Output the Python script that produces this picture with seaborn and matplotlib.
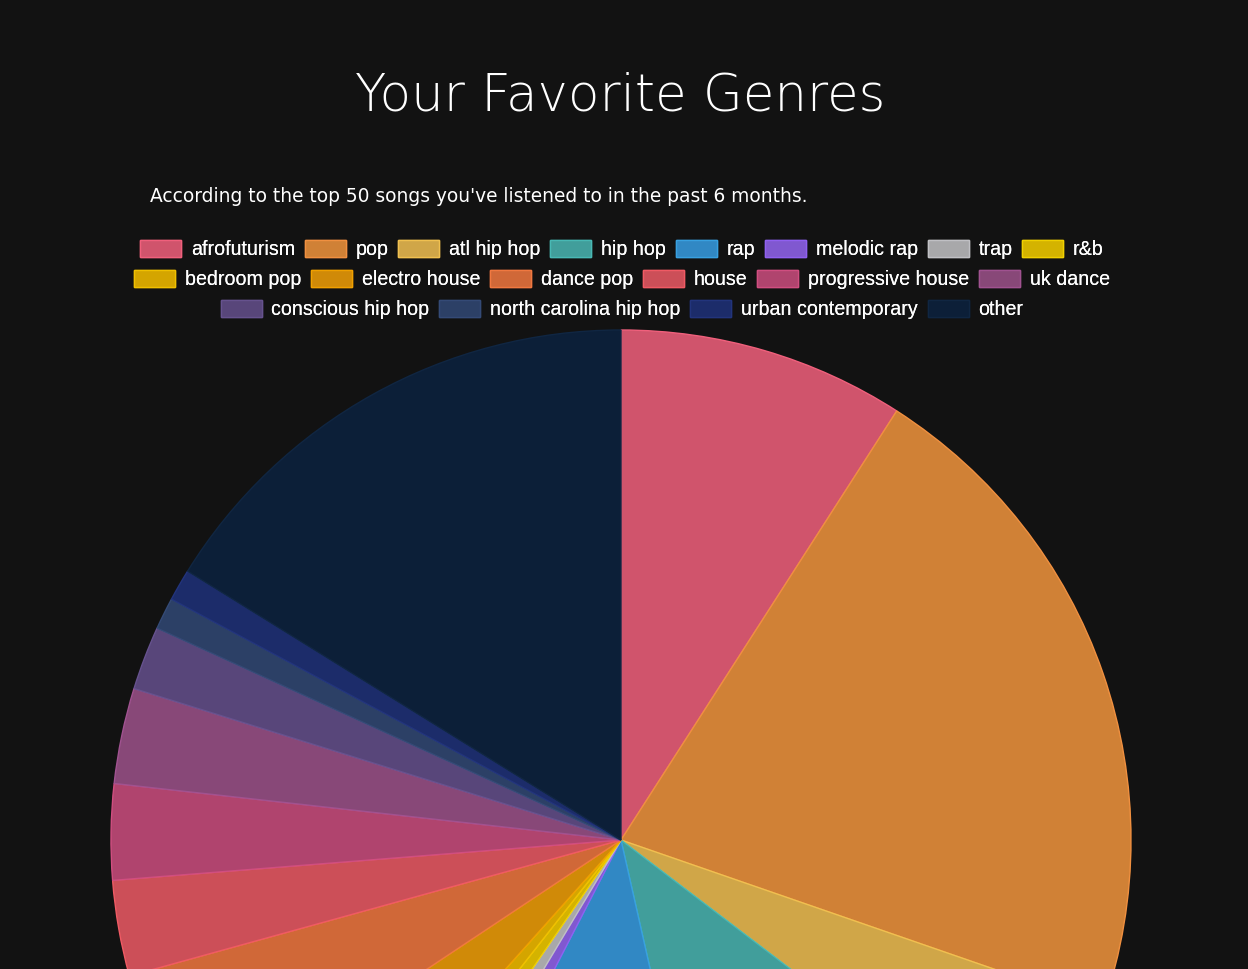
import matplotlib
matplotlib.use("Agg")
import matplotlib.pyplot as plt
import matplotlib.patches as mpatches
import seaborn as sns

genres = ["afrofuturism", "pop", "atl hip hop", "hip hop", "rap", "melodic rap",
          "trap", "r&b", "bedroom pop", "electro house", "dance pop", "house",
          "progressive house", "uk dance", "conscious hip hop",
          "north carolina hip hop", "urban contemporary", "other"]
counts = [9, 21, 5, 11, 11, 1, 1, 1, 1, 4, 5, 3, 3, 3, 2, 1, 1, 16]

fill_colors = ["#d0546c", "#d08136", "#d0a648", "#419e9b", "#3188c4", "#8058d0",
               "#a8a8aa", "#d4b300", "#d4a500", "#d08a08", "#d06838", "#cc4f58",
               "#b0446e", "#884878", "#58467a", "#2c4066", "#1c2c6a", "#0c1f38"]
edge_colors = ["#f0607c", "#f09040", "#f0c050", "#48b8b4", "#38a0e0", "#9060f0",
               "#c0c0c4", "#f0d000", "#f0c000", "#f0a000", "#f07840", "#f05a64",
               "#d04e80", "#a05290", "#66528e", "#344a76", "#22347c", "#102642"]

rows = [genres[0:8], genres[8:14], genres[14:18]]

sns.set_theme(style="dark")
plt.rcParams["font.family"] = ["Liberation Sans", "DejaVu Sans"]

W, H = 1248, 969
BG = "#121212"
fig = plt.figure(figsize=(W / 100, H / 100), dpi=100, facecolor=BG)
ax = fig.add_axes([0, 0, 1, 1])
ax.set_facecolor(BG)

wedges, _ = ax.pie(counts, colors=fill_colors, startangle=90, counterclock=False,
                   center=(621, H - 840), radius=510,
                   wedgeprops=dict(linewidth=1.0))
for w, ec in zip(wedges, edge_colors):
    w.set_edgecolor(ec)
ax.set_xlim(0, W)
ax.set_ylim(0, H)
ax.set_aspect("equal")
ax.axis("off")

def px(x, y):
    return x / W, 1 - y / H

fig.text(*px(620, 96), "Your Favorite Genres", color="white", fontsize=37,
         family=["DejaVu Sans"], fontweight="light",
         ha="center", va="center")
fig.text(*px(150, 197), "According to the top 50 songs you've listened to in the past 6 months.",
         color="white", fontsize=13.4, family=["DejaVu Sans"],
         ha="left", va="center")

color_of = dict(zip(genres, fill_colors))
edge_of = dict(zip(genres, edge_colors))
fs = 14.1
row_y = [249.5, 279.5, 309.5]
for row, yy in zip(rows, row_y):
    handles = [mpatches.Patch(facecolor=color_of[g], edgecolor=edge_of[g], linewidth=1.0,
                              label=g) for g in row]
    leg = fig.legend(handles=handles, loc="center", bbox_to_anchor=px(622, yy),
                     ncol=len(row), frameon=False, fontsize=fs,
                     handlelength=41 / 19.6, handleheight=20 / 19.6,
                     handletextpad=0.5, columnspacing=0.5, borderpad=0,
                     labelcolor="white")
    fig.add_artist(leg)

fig.savefig("out.png", dpi=100, facecolor=BG)
